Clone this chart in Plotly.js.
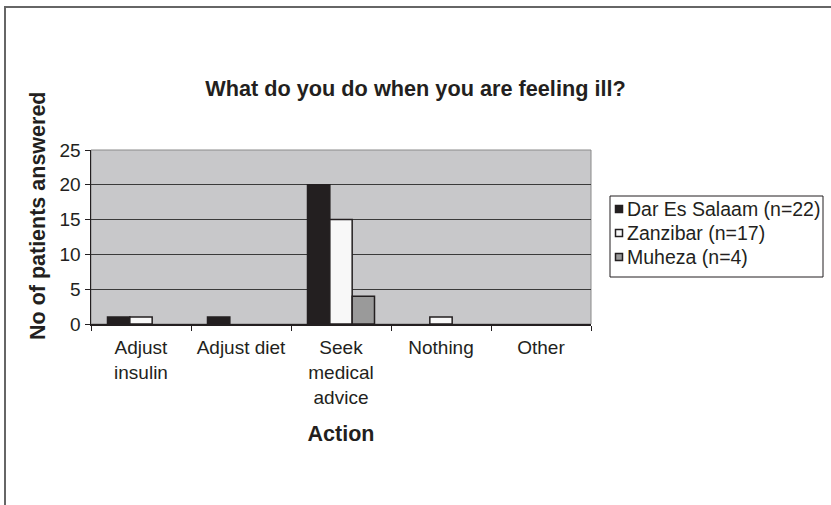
<!DOCTYPE html>
<html>
<head>
<meta charset="utf-8">
<script src="https://cdn.plot.ly/plotly-3.0.1.min.js"></script>
<style>
  html, body { margin: 0; padding: 0; background: #fff; }
  #frame { position: absolute; left: 4px; top: 6px; width: 840px; height: 520px;
           border-top: 2px solid #666; border-left: 2px solid #666; }
  #chart { position: absolute; left: 0; top: 0; width: 831px; height: 505px; }
</style>
</head>
<body>
<div id="frame"></div>
<div id="chart"></div>
<script>
const categories = ["Adjust<br>insulin", "Adjust diet", "Seek<br>medical<br>advice", "Nothing", "Other"];
const seriesNames = ["Dar Es Salaam (n=22)", "Zanzibar (n=17)", "Muheza (n=4)"];
const darEsSalaam = [1, 1, 20, 0, 0];
const zanzibar = [1, 0, 15, 1, 0];
const muheza = [0, 0, 4, 0, 0];
const yTicks = [0, 5, 10, 15, 20, 25];

const colors = ["#231f20", "#f8f8f8", "#9a9a9a"];
const values = [darEsSalaam, zanzibar, muheza];

const traces = values.map((v, i) => ({
  type: "bar",
  name: seriesNames[i],
  x: categories,
  y: v,
  marker: {
    color: colors[i],
    line: { color: "#231f20", width: v.map(d => (d === 0 ? 0 : 1.5)) }
  }
}));

// plot area in pixels: x 91..591, y 150..324
const PL = 91, PW = 500, PB = 324, PH = 174;
const px = x => (x - PL) / PW;
const py = y => (PB - y) / PH;

// legend (drawn as annotations + shapes, built from seriesNames / colors)
const legendRowsY = [209, 233, 257];
const shapes = [
  { type: "rect", xref: "paper", yref: "paper", x0: 0, x1: 1, y0: 0, y1: 1,
    line: { color: "#8a8a8a", width: 1 }, layer: "below" },
  { type: "rect", xref: "paper", yref: "paper",
    x0: px(610), x1: px(823), y0: py(277), y1: py(196),
    fillcolor: "#ffffff", line: { color: "#231f20", width: 1 } }
];
const annotations = [{
  text: "<b>No of patients answered</b>",
  textangle: -90,
  xref: "paper", yref: "paper",
  x: px(38), y: py(216),
  xanchor: "center", yanchor: "middle",
  showarrow: false,
  font: { size: 21.5, color: "#231f20" }
}];
seriesNames.forEach((name, i) => {
  const cy = legendRowsY[i];
  shapes.push({
    type: "rect", xref: "paper", yref: "paper",
    x0: px(615.5), x1: px(622.5), y0: py(cy + 3.5), y1: py(cy - 3.5),
    fillcolor: colors[i], line: { color: "#231f20", width: 1.5 }
  });
  annotations.push({
    text: name, xref: "paper", yref: "paper",
    x: px(625), y: py(cy), xanchor: "left", yanchor: "middle",
    showarrow: false, font: { size: 19.5, color: "#231f20" }
  });
});

const layout = {
  width: 831, height: 505,
  margin: { l: 91, r: 240, t: 150, b: 181, pad: 0 },
  paper_bgcolor: "rgba(0,0,0,0)",
  plot_bgcolor: "#c8c8ca",
  font: { family: "Liberation Sans, Arial, sans-serif", size: 19, color: "#231f20" },
  title: {
    text: "<b>What do you do when you are feeling ill?</b>",
    font: { size: 21.7, color: "#231f20" },
    x: 0.5, xref: "container", xanchor: "center",
    y: 1 - 88 / 505, yref: "container", yanchor: "middle"
  },
  barmode: "group",
  bargap: 0.33,
  bargroupgap: 0,
  showlegend: false,
  xaxis: {
    type: "category",
    tickson: "boundaries",
    ticks: "outside", ticklen: 5, tickcolor: "#231f20", tickwidth: 1,
    ticklabelstandoff: 6,
    showline: true, linecolor: "#231f20", linewidth: 1.5,
    showgrid: false,
    tickfont: { size: 19, color: "#231f20" },
    title: { text: "<b>Action</b>", font: { size: 21.5, color: "#231f20" }, standoff: 19 }
  },
  yaxis: {
    range: [0, 25],
    tickvals: yTicks,
    ticks: "outside", ticklen: 5, tickcolor: "#231f20", tickwidth: 1,
    showline: true, linecolor: "#231f20", linewidth: 1.5,
    showgrid: true, gridcolor: "#3a3a3a", gridwidth: 1,
    zeroline: false,
    tickfont: { size: 19, color: "#231f20" }
  },
  annotations: annotations,
  shapes: shapes
};

Plotly.newPlot("chart", traces, layout, { displayModeBar: false, staticPlot: true });
</script>
</body>
</html>
